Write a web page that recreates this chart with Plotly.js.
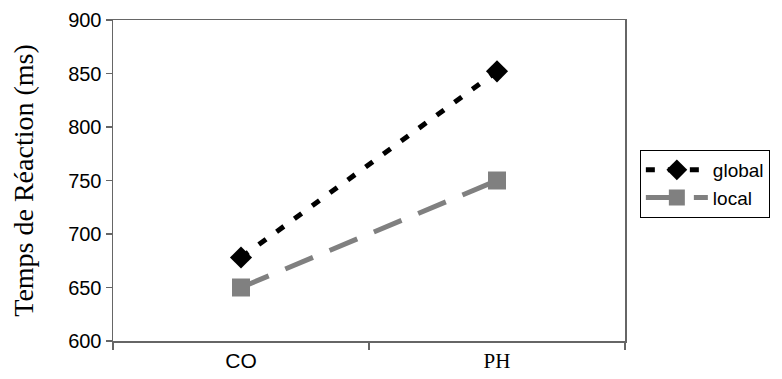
<!DOCTYPE html>
<html>
<head>
<meta charset="utf-8">
<script src="https://cdn.plot.ly/plotly-3.0.1.min.js"></script>
<style>html,body{margin:0;padding:0;background:#fff;}#chart{width:782px;height:379px;}</style>
</head>
<body>
<div id="chart"></div>
<script>
const categories = ["CO", "PH"];
const categoryLabels = ["<span style='font-family:Liberation Sans, Arial, sans-serif'>CO</span>", "PH"];
const globalValues = [678, 852];
const localValues = [650, 750];
const yTicks = [600, 650, 700, 750, 800, 850, 900];

const traces = [
  {
    x: categories, y: globalValues, name: "global", type: "scatter", mode: "lines+markers",
    line: {color: "#000000", width: 5, dash: "9px,13px"},
    marker: {symbol: "diamond", size: 17, color: "#000000"}
  },
  {
    x: categories, y: localValues, name: "local", type: "scatter", mode: "lines+markers",
    line: {color: "#808080", width: 5, dash: "30px,18px"},
    marker: {symbol: "square", size: 18, color: "#808080"}
  }
];

const layout = {
  width: 782, height: 379,
  margin: {l: 113, r: 154, t: 20, b: 38},
  paper_bgcolor: "#fff", plot_bgcolor: "#fff",
  showlegend: true,
  legend: {
    x: 1.029, y: 0.595, xanchor: "left", yanchor: "top",
    bordercolor: "#000", borderwidth: 1, bgcolor: "#fff",
    font: {family: "Liberation Sans, Arial, sans-serif", size: 19, color: "#000"},
    tracegroupgap: 0, itemwidth: 62
  },
  xaxis: {
    type: "category", range: [-0.5, 1.5],
    tickmode: "array", tickvals: categories, ticktext: categoryLabels,
    tickson: "boundaries", ticks: "outside", ticklen: 7, tickcolor: "#666", tickwidth: 1.5,
    showline: true, linecolor: "#666", linewidth: 1.5, mirror: true,
    showgrid: false, zeroline: false,
    tickfont: {family: "Liberation Serif, Times New Roman, serif", size: 21, color: "#000"}
  },
  yaxis: {
    range: [600, 900], tickvals: yTicks, ticktext: yTicks.map(String),
    ticks: "outside", ticklen: 6, tickcolor: "#666", tickwidth: 1.5,
    showline: true, linecolor: "#666", linewidth: 1.5, mirror: true,
    showgrid: false, zeroline: false,
    tickfont: {family: "Liberation Sans, Arial, sans-serif", size: 20, color: "#000"},
    title: {text: "Temps de Réaction (ms)", standoff: 26,
      font: {family: "Liberation Serif, Times New Roman, serif", size: 28, color: "#000"}}
  }
};

Plotly.newPlot("chart", traces, layout, {displayModeBar: false, staticPlot: true});
</script>
</body>
</html>
